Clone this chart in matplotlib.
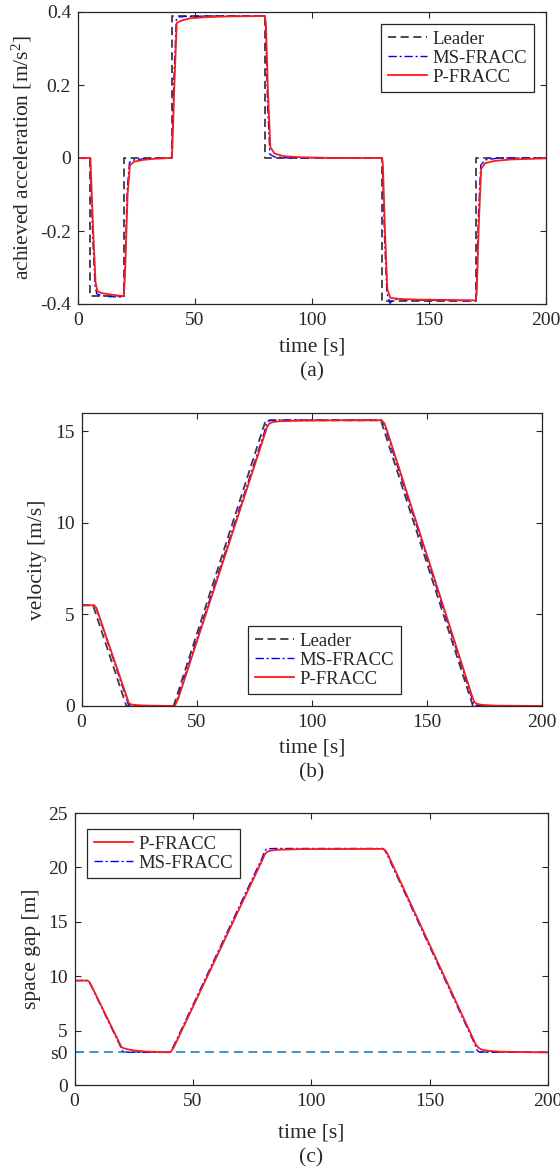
import matplotlib
matplotlib.use("Agg")
import matplotlib.pyplot as plt

plt.rcParams['font.family'] = ['Liberation Serif', 'DejaVu Serif']
plt.rcParams['mathtext.fontset'] = 'custom'
plt.rcParams['mathtext.rm'] = 'Liberation Serif'
plt.rcParams['mathtext.it'] = 'Liberation Serif:italic'

# ---- data ----
# (a) acceleration [m/s^2]
t_lead_a = [0, 5, 5, 19.5, 19.5, 40, 40, 80, 80, 130, 130, 170, 170, 200]
a_lead = [0, 0, -0.378, -0.378, 0, 0, 0.39, 0.39, 0, 0, -0.391, -0.391, 0, 0]

t_p_a = [0, 5.3, 6.5, 7.5, 8.3, 10, 14, 19.6, 20.2, 21.2, 22.2, 24, 28, 33, 40,
         40.3, 41.2, 42.2, 44, 48, 55, 65, 79.8, 80.3, 81.2, 82.2, 84, 88, 95, 110, 130,
         130.3, 131.2, 132.2, 133.5, 137, 145, 160, 170, 170.4, 171.3, 172.3, 174, 178, 185, 200]
a_p = [0, 0, -0.2, -0.34, -0.365, -0.37, -0.374, -0.379, -0.3, -0.1, -0.02, -0.01, -0.005, -0.002, 0,
       0.02, 0.2, 0.37, 0.376, 0.383, 0.386, 0.388, 0.389, 0.37, 0.18, 0.03, 0.012, 0.005, 0.002, 0, 0,
       -0.02, -0.2, -0.36, -0.383, -0.386, -0.388, -0.389, -0.39, -0.37, -0.18, -0.03, -0.014, -0.008, -0.004, -0.001]

t_ms_a = [0, 5.2, 6.3, 7.3, 8, 10, 14, 19.5, 20.1, 21, 22, 24, 30, 40,
          40.2, 41, 42, 43, 46, 60, 79.8, 80.2, 81, 82, 84, 90, 130,
          130.2, 131, 132, 133.3, 134.5, 137, 140, 150, 170, 170.3, 171.1, 172.1, 174, 180, 200]
a_ms = [0, 0, -0.22, -0.35, -0.372, -0.377, -0.38, -0.381, -0.3, -0.09, -0.012, -0.005, -0.001, 0,
        0.03, 0.22, 0.378, 0.386, 0.388, 0.389, 0.39, 0.36, 0.15, 0.01, 0.003, 0, 0,
        -0.03, -0.22, -0.37, -0.398, -0.39, -0.386, -0.389, -0.39, -0.391, -0.36, -0.16, -0.02, -0.005, 0, 0]

# (b) velocity [m/s]
t_lead_v = [0, 5, 19.5, 40, 80, 130, 170, 200]
v_lead = [5.5, 5.5, 0, 0, 15.6, 15.6, 0, 0]

t_p = [0, 5.5, 6.5, 19.8, 20.5, 21.5, 25, 30, 40, 40.7, 42, 79.5, 80.5, 81.5, 83, 86, 95, 110,
       130.3, 131.5, 132.5, 169.5, 170.5, 171.5, 174, 180, 200]
v_p = [5.5, 5.5, 5.35, 0.45, 0.18, 0.08, 0.04, 0.02, 0, 0.05, 0.4, 14.8, 15.2, 15.42, 15.5, 15.55, 15.58, 15.6,
       15.6, 15.45, 15.12, 0.6, 0.25, 0.12, 0.06, 0.02, 0]

t_ms = [0, 5.4, 6.3, 19.6, 20.3, 21, 23, 30, 40, 40.5, 41.5, 79.3, 80.3, 81, 82, 85,
        130.2, 131, 132, 169.4, 170.2, 171, 173, 200]
v_ms = [5.5, 5.5, 5.37, 0.38, 0.1, 0.03, 0.01, 0, 0, 0.04, 0.35, 14.9, 15.4, 15.55, 15.6, 15.62,
        15.62, 15.5, 15.15, 0.5, 0.12, 0.03, 0.01, 0]

# (c) space gap [m]
t_p_gap = [0, 5.5, 6.5, 19.8, 20.5, 22, 25, 30, 35, 40, 40.7, 42, 79.5, 80.5, 81.5, 83, 86, 95,
           130.3, 131.5, 132.5, 169.5, 170.5, 172, 175, 180, 190, 200]
gap_p = [9.6, 9.6, 9.42, 3.5, 3.4, 3.3, 3.18, 3.08, 3.04, 3.0, 3.06, 3.48, 20.75, 21.25, 21.45, 21.55, 21.62, 21.68,
         21.7, 21.52, 21.13, 3.73, 3.45, 3.25, 3.13, 3.06, 3.02, 3.0]
gap_ms = [9.6, 9.6, 9.44, 3.46, 3.12, 3.04, 3.01, 3.0, 3.0, 3.05, 3.42, 20.9, 21.5, 21.68, 21.72, 21.74,
          21.74, 21.6, 21.18, 3.6, 3.14, 3.04, 3.01, 3.0]
s0 = 3.0

xticks = [0, 50, 100, 150, 200]

W, H = 560, 1171
fig = plt.figure(figsize=(W / 100, H / 100), dpi=100)


def box(l, r, t, b):
    return [l / W, 1 - b / H, (r - l) / W, (b - t) / H]


TICK_FS = 14
LAB_FS = 15.5
LEG_FS = 13.5
DARK = '#262626'
LEAD = '#3c3c3c'
BLUE = '#0000ff'
RED = '#ff1a1a'


def style(ax, ylim, yticks, ylabels, ylab, lab_x):
    ax.set_xlim(0, 200)
    ax.set_ylim(*ylim)
    ax.set_xticks(xticks)
    ax.set_xticklabels([str(x) for x in xticks])
    ax.set_yticks(yticks)
    ax.set_yticklabels(ylabels)
    ax.tick_params(direction='in', top=True, right=True, length=4, width=0.8,
                   color=DARK, labelsize=TICK_FS, labelcolor=DARK)
    ax.tick_params(axis='x', pad=6)
    ax.tick_params(axis='y', pad=5)
    for s in ax.spines.values():
        s.set_color(DARK)
        s.set_linewidth(0.9)
    ax.set_ylabel(ylab, fontsize=LAB_FS, color=DARK)
    ax.yaxis.set_label_coords(lab_x, 0.5)


def legend(ax, handles, labels, x, y):
    leg = ax.legend(handles, labels, loc='upper left', bbox_to_anchor=(x / W, 1 - y / H),
                    bbox_transform=fig.transFigure, borderaxespad=0, fontsize=LEG_FS,
                    handlelength=2.1, handletextpad=0.3, labelspacing=0.1,
                    borderpad=0.35, fancybox=False, framealpha=1)
    leg.get_frame().set_edgecolor(DARK)
    leg.get_frame().set_linewidth(0.9)
    for txt in leg.get_texts():
        txt.set_color(DARK)


def captions(l, r, y_lab, y_cap, cap):
    fig.text((l + r) / 2 / W, 1 - y_lab / H, 'time [s]', ha='center', va='center',
             fontsize=LAB_FS, color=DARK)
    fig.text((l + r) / 2 / W, 1 - y_cap / H, cap, ha='center', va='center',
             fontsize=LAB_FS, color=DARK)


lead_kw = dict(color=LEAD, lw=1.3, ls=(0, (4.5, 2.5)))
ms_kw = dict(color=BLUE, lw=1.0, ls=(0, (6, 2, 1.5, 2)))
p_kw = dict(color=RED, lw=1.3, ls='-')

# ---- (a) ----
l, r, t, b = 78, 546, 12, 304
ax1 = fig.add_axes(box(l, r, t, b))
h1, = ax1.plot(t_lead_a, a_lead, **lead_kw)
h2, = ax1.plot(t_ms_a, a_ms, **ms_kw)
h3, = ax1.plot(t_p_a, a_p, **p_kw)
style(ax1, (-0.4, 0.4), [-0.4, -0.2, 0, 0.2, 0.4], ['-0.4', '-0.2', '0', '0.2', '0.4'],
      'achieved acceleration [m/s$^2$]', (34 - l) / (r - l))
legend(ax1, [h1, h2, h3], ['Leader', 'MS-FRACC', 'P-FRACC'], 381, 24)
captions(l, r, 347, 372, '(a)')

# ---- (b) ----
l, r, t, b = 81.5, 542, 413, 706
ax2 = fig.add_axes(box(l, r, t, b))
h1, = ax2.plot(t_lead_v, v_lead, **lead_kw)
h2, = ax2.plot(t_ms, v_ms, **ms_kw)
h3, = ax2.plot(t_p, v_p, **p_kw)
style(ax2, (0, 16), [0, 5, 10, 15], ['0', '5', '10', '15'],
      'velocity [m/s]', (47 - l) / (r - l))
legend(ax2, [h1, h2, h3], ['Leader', 'MS-FRACC', 'P-FRACC'], 248, 626)
captions(l, r, 748, 773, '(b)')

# ---- (c) ----
l, r, t, b = 74.5, 548, 813, 1085
ax3 = fig.add_axes(box(l, r, t, b))
ax3.axhline(s0, color='#2b8ad6', lw=1.3, ls=(0, (5, 3)))
h2, = ax3.plot(t_ms, gap_ms, **ms_kw)
h3, = ax3.plot(t_p_gap, gap_p, **p_kw)
style(ax3, (0, 25), [0, s0, 5, 10, 15, 20, 25], ['0', 's0', '5', '10', '15', '20', '25'],
      'space gap [m]', (41 - l) / (r - l))
legend(ax3, [h3, h2], ['P-FRACC', 'MS-FRACC'], 87, 829)
captions(l, r, 1133, 1158, '(c)')

fig.savefig('out.png', dpi=100, facecolor='white')
